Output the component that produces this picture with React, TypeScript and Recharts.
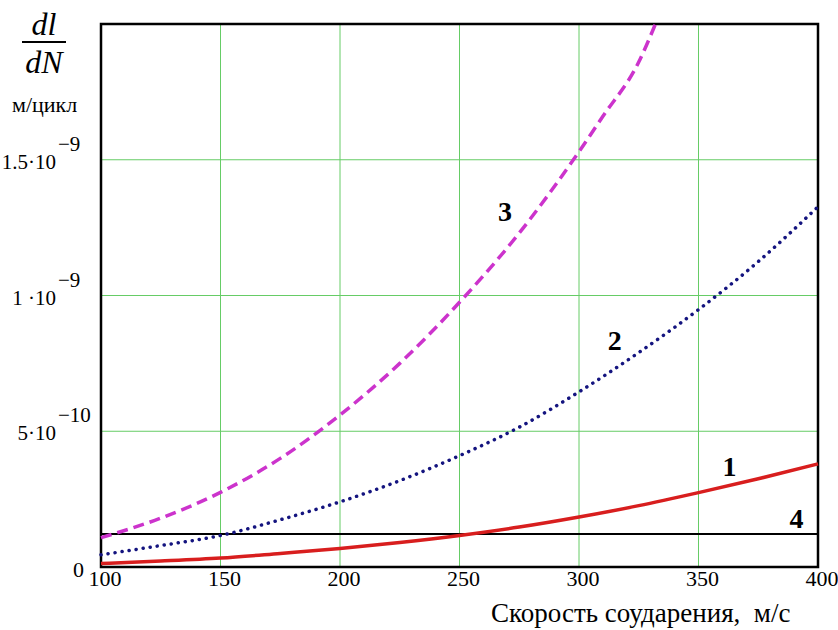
import React from 'react'
import {
  LineChart, Line, XAxis, YAxis, CartesianGrid, ReferenceLine, ReferenceArea, ReferenceDot,
} from 'recharts'

// скорость соударения, м/с
const velocity = [100, 125, 150, 175, 200, 225, 250, 275, 300, 325, 350, 375, 400]
// dl/dN, м/цикл
const curve1 = [0.13e-10, 0.22e-10, 0.33e-10, 0.5e-10, 0.68e-10, 0.9e-10, 1.16e-10, 1.47e-10, 1.84e-10, 2.26e-10, 2.74e-10, 3.25e-10, 3.8e-10]
const curve2 = [0.45e-10, 0.79e-10, 1.16e-10, 1.74e-10, 2.4e-10, 3.18e-10, 4.1e-10, 5.15e-10, 6.45e-10, 7.9e-10, 9.48e-10, 11.25e-10, 13.27e-10]
const velocity3 = [100, 125, 150, 175, 200, 225, 250, 275, 300, 310, 325, 332]
const curve3 = [1.08e-10, 1.8e-10, 2.75e-10, 4.0e-10, 5.6e-10, 7.5e-10, 9.75e-10, 12.3e-10, 15.3e-10, 16.6e-10, 18.6e-10, 20.0e-10]
const level4 = 1.22e-10

const xTicks = [100, 150, 200, 250, 300, 350, 400]
const yTicks = [0, 5e-10, 1e-9, 1.5e-9]
const yTickLabels = [
  { base: '0', exp: '' },
  { base: '5·10', exp: '−10' },
  { base: '1 ·10', exp: '−9' },
  { base: '1.5·10', exp: '−9' },
]
const curveLabels = [
  { text: '1', v: 363, y: 3.7e-10 },
  { text: '2', v: 315, y: 8.35e-10 },
  { text: '3', v: 269, y: 13.1e-10 },
  { text: '4', v: 391, y: 1.8e-10 },
]

const rows = velocity.map((v, i) => ({ v, c1: curve1[i], c2: curve2[i] }))
const rows3 = velocity3.map((v, i) => ({ v, c3: curve3[i] }))

const FONT = 'Liberation Serif'

const XTick = (props: any) => {
  const { x, y, payload } = props
  return (
    <text x={x + 4} y={y + 11} textAnchor="middle" fontFamily={FONT} fontSize={22} fill="#000">
      {payload.value}
    </text>
  )
}

const YTick = (props: any) => {
  const { x, y, payload } = props
  const idx = yTicks.indexOf(payload.value)
  const lab = yTickLabels[idx]
  if (!lab) return null
  if (!lab.exp) {
    return (
      <text x={x - 9} y={y + 10} textAnchor="end" fontFamily={FONT} fontSize={22} fill="#000">
        {lab.base}
      </text>
    )
  }
  return (
    <g>
      <text x={x - 37} y={y + 9} textAnchor="end" fontFamily={FONT} fontSize={21} fill="#000">
        {lab.base}
      </text>
      <text x={x - 35} y={y - 9} textAnchor="start" fontFamily={FONT} fontSize={21} fill="#000">
        {lab.exp}
      </text>
    </g>
  )
}

export default function App() {
  return (
    <div style={{ position: 'fixed', left: 0, top: 0, width: 838, height: 630, background: '#fff' }}>
      <LineChart width={838} height={630} margin={{ top: 24, right: 20, bottom: 0, left: 0 }}>
        <CartesianGrid stroke="#66cc66" strokeWidth={1} />
        <XAxis
          dataKey="v"
          type="number"
          domain={[100, 400]}
          ticks={xTicks}
          height={63}
          axisLine={false}
          tickLine={false}
          tick={<XTick />}
          allowDuplicatedCategory={false}
        />
        <YAxis
          type="number"
          domain={[0, 2e-9]}
          ticks={yTicks}
          width={101}
          axisLine={false}
          tickLine={false}
          tick={<YTick />}
          allowDataOverflow
        />
        <ReferenceLine y={level4} stroke="#000" strokeWidth={2} />
        <Line data={rows} dataKey="c1" type="monotone" stroke="#d81e1e" strokeWidth={3.5} dot={false} isAnimationActive={false} />
        <Line data={rows} dataKey="c2" type="monotone" stroke="#14147f" strokeWidth={3.5} strokeDasharray="0.1 7" strokeLinecap="round" dot={false} isAnimationActive={false} />
        <Line data={rows3} dataKey="c3" type="monotone" stroke="#cc33cc" strokeWidth={3.5} strokeDasharray="11 6" dot={false} isAnimationActive={false} />
        <ReferenceArea x1={100} x2={400} y1={0} y2={2e-9} fill="none" stroke="#000" strokeWidth={2.5} />
        {curveLabels.map((l) => (
          <ReferenceDot
            key={l.text}
            x={l.v}
            y={l.y}
            r={0}
            fill="none"
            stroke="none"
            label={{ value: l.text, position: 'center', fill: '#000', fontSize: 28, fontWeight: 'bold', fontFamily: FONT }}
          />
        ))}
      </LineChart>
      <div style={{ position: 'absolute', left: 22, top: 8, width: 44, fontFamily: FONT, fontStyle: 'italic', fontSize: 32, textAlign: 'center', lineHeight: '32px' }}>
        <div style={{ borderBottom: '2px solid #000', paddingBottom: 1 }}>dl</div>
        <div style={{ paddingTop: 3 }}>dN</div>
      </div>
      <div style={{ position: 'absolute', left: 12, top: 92, fontFamily: FONT, fontSize: 22, color: '#000' }}>м/цикл</div>
      <div style={{ position: 'absolute', left: 491, top: 598, fontFamily: FONT, fontSize: 27, color: '#000', whiteSpace: 'pre' }}>
        Скорость соударения,  м/с
      </div>
    </div>
  )
}
